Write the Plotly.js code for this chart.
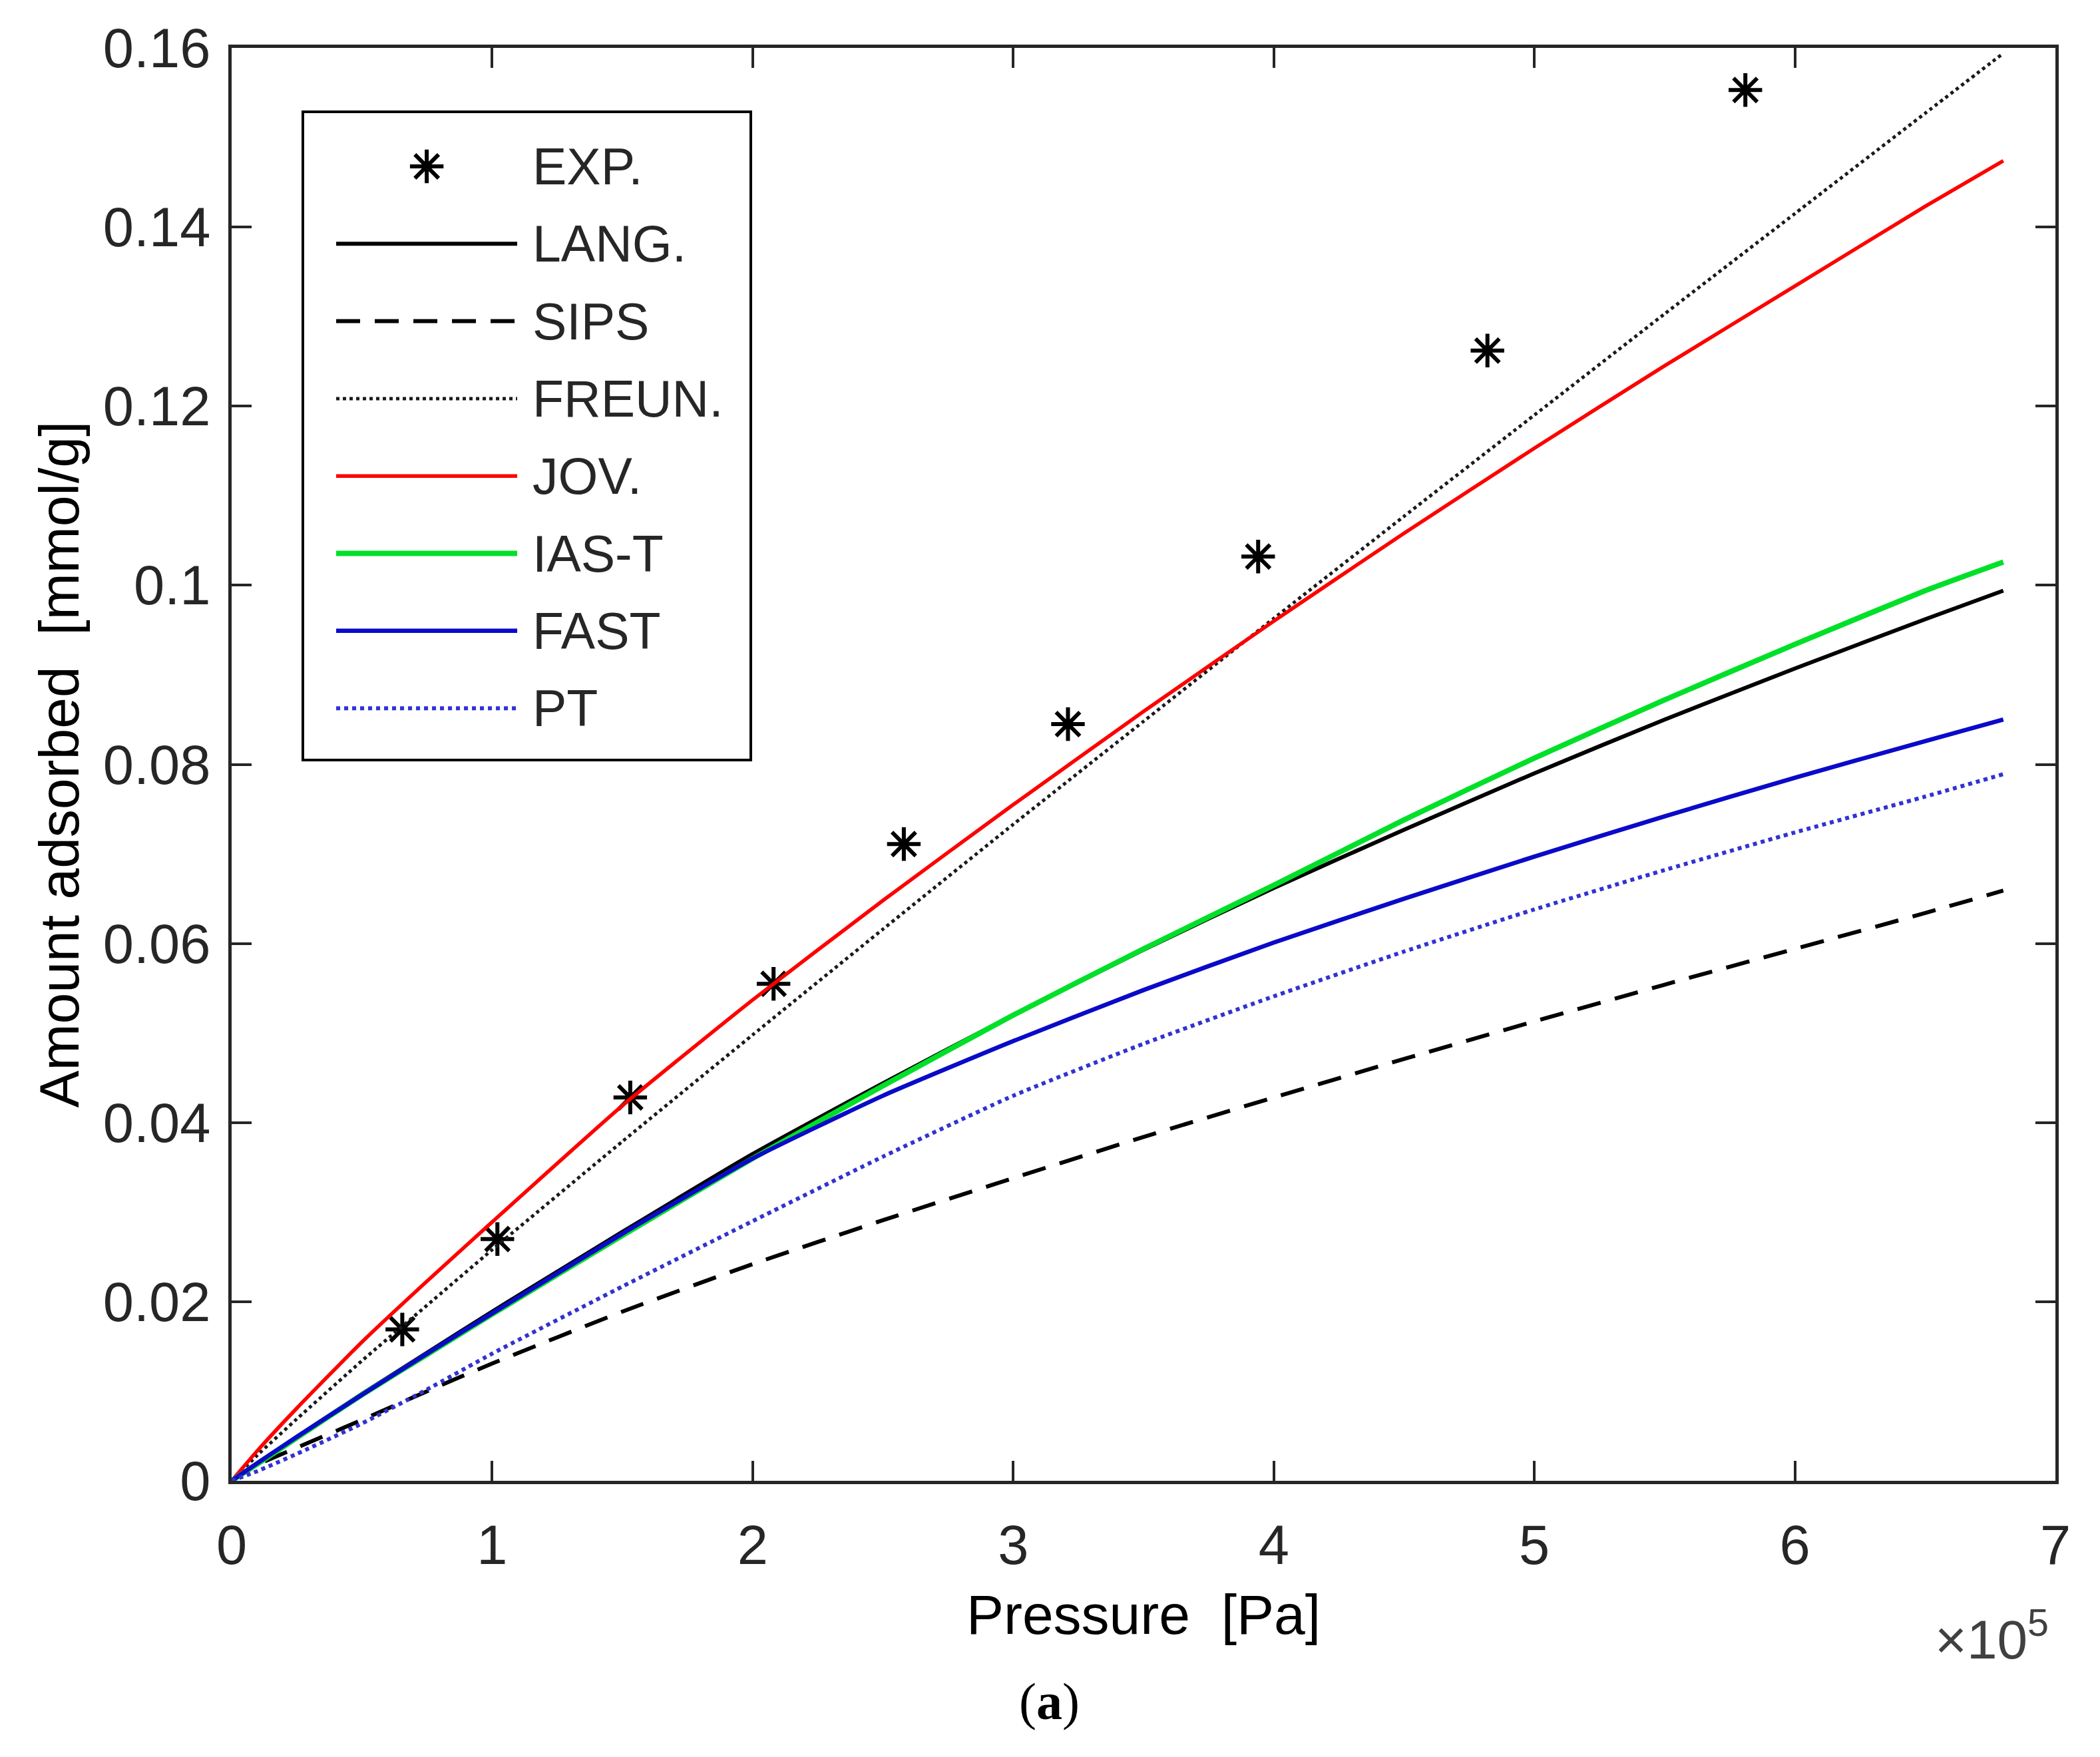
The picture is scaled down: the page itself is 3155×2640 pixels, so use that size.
<!DOCTYPE html>
<html>
<head>
<meta charset="utf-8">
<script src="https://cdn.plot.ly/plotly-3.0.1.min.js"></script>
<style>
  html, body { margin: 0; padding: 0; background: #fff; }
  #chart { width: 3155px; height: 2640px; }
</style>
</head>
<body>
<div id="chart"></div>
<script>
// Pressure in units of 1e5 Pa (axis shows x10^5)
const pressure = [0, 0.1, 0.25, 0.5, 0.75, 1, 1.5, 2, 2.5, 3, 3.5, 4, 4.5, 5, 5.5, 6, 6.5, 6.8];

// Model curves, amount adsorbed [mmol/g]
const lang  = [0, 0.0020, 0.0049, 0.0097, 0.0143, 0.0189, 0.0278, 0.0365, 0.0444, 0.0520, 0.0593, 0.0662, 0.0727, 0.0790, 0.0850, 0.0907, 0.0962, 0.0994];
const sips  = [0, 0.0018, 0.0037, 0.0068, 0.0100, 0.0131, 0.0189, 0.0242, 0.0291, 0.0338, 0.0384, 0.0428, 0.0471, 0.0513, 0.0554, 0.0594, 0.0634, 0.0659];
const freun = [0, 0.0029, 0.0069, 0.0134, 0.0196, 0.0258, 0.0379, 0.0498, 0.0616, 0.0733, 0.0848, 0.0963, 0.1077, 0.1190, 0.1303, 0.1415, 0.1527, 0.1594];
const jov   = [0, 0.0034, 0.0081, 0.0155, 0.0223, 0.0289, 0.0419, 0.0537, 0.0648, 0.0755, 0.0859, 0.0960, 0.1058, 0.1153, 0.1245, 0.1334, 0.1423, 0.1474];
const iasT  = [0, 0.0019, 0.0048, 0.0096, 0.0141, 0.0186, 0.0274, 0.0360, 0.0441, 0.0520, 0.0594, 0.0665, 0.0738, 0.0807, 0.0872, 0.0934, 0.0994, 0.1026];
const fast  = [0, 0.0020, 0.0049, 0.0096, 0.0142, 0.0187, 0.0276, 0.0360, 0.0430, 0.0491, 0.0548, 0.0601, 0.0650, 0.0697, 0.0742, 0.0785, 0.0826, 0.0850];
const pt    = [0, 0.0011, 0.0030, 0.0064, 0.0102, 0.0142, 0.0217, 0.0290, 0.0362, 0.0430, 0.0488, 0.0541, 0.0591, 0.0638, 0.0682, 0.0724, 0.0764, 0.0789];

// Experimental points
const expPressure = [0.655, 1.02, 1.53, 2.08, 2.58, 3.21, 3.94, 4.82, 5.81];
const expAmount   = [0.0169, 0.0270, 0.0428, 0.0555, 0.0711, 0.0845, 0.1032, 0.1262, 0.1553];

// Axis ticks
const xTicks = [0, 1, 2, 3, 4, 5, 6, 7];
const yTicks = [0, 0.02, 0.04, 0.06, 0.08, 0.1, 0.12, 0.14, 0.16];
const yTickText = ["0", "0.02", "0.04", "0.06", "0.08", "0.1", "0.12", "0.14", "0.16"];

const FONT = "Liberation Sans, Arial, Helvetica, sans-serif";
const AXIS_COLOR = "#262626";

const curves = [
  { name: "LANG.",  y: lang,  color: "#000000", width: 6,   dash: "solid" },
  { name: "SIPS",   y: sips,  color: "#000000", width: 6,   dash: "36px,22px" },
  { name: "FREUN.", y: freun, color: "#1a1a1a", width: 5,   dash: "5px,5px" },
  { name: "JOV.",   y: jov,   color: "#ff0000", width: 5.5, dash: "solid" },
  { name: "IAS-T",  y: iasT,  color: "#00e028", width: 8,   dash: "solid" },
  { name: "FAST",   y: fast,  color: "#0a0ac8", width: 6.5, dash: "solid" },
  { name: "PT",     y: pt,    color: "#3232d2", width: 6,   dash: "6px,6px" },
];

const EXP_MARKER = {
  symbol: "asterisk-open",
  size: 42,
  color: "#000000",
  line: { color: "#000000", width: 6 },
};

function buildTraces() {
  const traces = [];

  traces.push({
    type: "scatter",
    mode: "markers",
    x: expPressure,
    y: expAmount,
    marker: EXP_MARKER,
    showlegend: false,
  });

  curves.forEach((c) => {
    traces.push({
      type: "scatter",
      mode: "lines",
      x: pressure,
      y: c.y,
      line: { color: c.color, width: c.width, dash: c.dash, shape: "spline", smoothing: 0.5 },
      showlegend: false,
    });
  });

  // legend drawn inside its own small axes so the line samples keep MATLAB's long look
  traces.push({
    type: "scatter",
    mode: "markers",
    x: [0.275],
    y: [0],
    xaxis: "x2",
    yaxis: "y2",
    marker: EXP_MARKER,
    showlegend: false,
  });

  curves.forEach((c, i) => {
    traces.push({
      type: "scatter",
      mode: "lines",
      x: [0.0717, 0.478],
      y: [i + 1, i + 1],
      xaxis: "x2",
      yaxis: "y2",
      line: { color: c.color, width: c.width, dash: c.dash },
      showlegend: false,
    });
  });

  return traces;
}

function buildLegendLabels() {
  const names = ["EXP."].concat(curves.map((c) => c.name));
  return names.map((name, i) => ({
    xref: "x2",
    yref: "y2",
    x: 0.509,
    y: i,
    text: name,
    showarrow: false,
    xanchor: "left",
    yanchor: "middle",
    font: { family: FONT, size: 77, color: AXIS_COLOR },
  }));
}

const axisBase = {
  showline: true,
  linecolor: AXIS_COLOR,
  linewidth: 5,
  mirror: "ticks",
  ticks: "inside",
  ticklen: 30,
  tickwidth: 4,
  tickcolor: AXIS_COLOR,
  showgrid: false,
  zeroline: false,
  tickfont: { family: FONT, size: 83, color: AXIS_COLOR },
};

const layout = {
  width: 3155,
  height: 2640,
  margin: { l: 348, r: 67, t: 72, b: 415 },
  paper_bgcolor: "#ffffff",
  plot_bgcolor: "#ffffff",
  showlegend: false,
  xaxis: {
    ...axisBase,
    range: [0, 7],
    tickvals: xTicks,
    ticktext: xTicks.map(String),
    ticklabelstandoff: 20,
    title: {
      text: "Pressure\u00a0\u00a0[Pa]",
      font: { family: FONT, size: 84, color: "#000000" },
      standoff: 31,
    },
    automargin: false,
  },
  yaxis: {
    ...axisBase,
    range: [0, 0.16],
    tickvals: yTicks,
    ticktext: yTickText,
    ticklabelstandoff: 10,
    title: {
      text: "Amount adsorbed\u00a0\u00a0[mmol/g]",
      font: { family: FONT, size: 84, color: "#000000" },
      standoff: 10,
    },
    automargin: false,
  },
  xaxis2: {
    domain: [0.0398, 0.2841],
    anchor: "y2",
    range: [0, 1],
    showline: true,
    mirror: true,
    linecolor: "#000000",
    linewidth: 4,
    ticks: "",
    showticklabels: false,
    showgrid: false,
    zeroline: false,
  },
  yaxis2: {
    domain: [0.5039, 0.9545],
    anchor: "x2",
    range: [7.653, -0.688],
    showline: true,
    mirror: true,
    linecolor: "#000000",
    linewidth: 4,
    ticks: "",
    showticklabels: false,
    showgrid: false,
    zeroline: false,
  },
  annotations: [
    ...buildLegendLabels(),
    {
      xref: "paper",
      yref: "paper",
      x: 0.997,
      y: -0.083,
      xanchor: "right",
      yanchor: "top",
      text: "×10<sup>5</sup>",
      showarrow: false,
      font: { family: FONT, size: 82, color: "#404040" },
    },
    {
      xref: "paper",
      yref: "paper",
      x: 0.4485,
      y: -0.154,
      xanchor: "center",
      yanchor: "middle",
      text: "(<b>a</b>)",
      showarrow: false,
      font: { family: "Liberation Serif, Times New Roman, serif", size: 78, color: "#000000" },
    },
  ],
};

Plotly.newPlot("chart", buildTraces(), layout, { staticPlot: true, displayModeBar: false });
</script>
</body>
</html>
